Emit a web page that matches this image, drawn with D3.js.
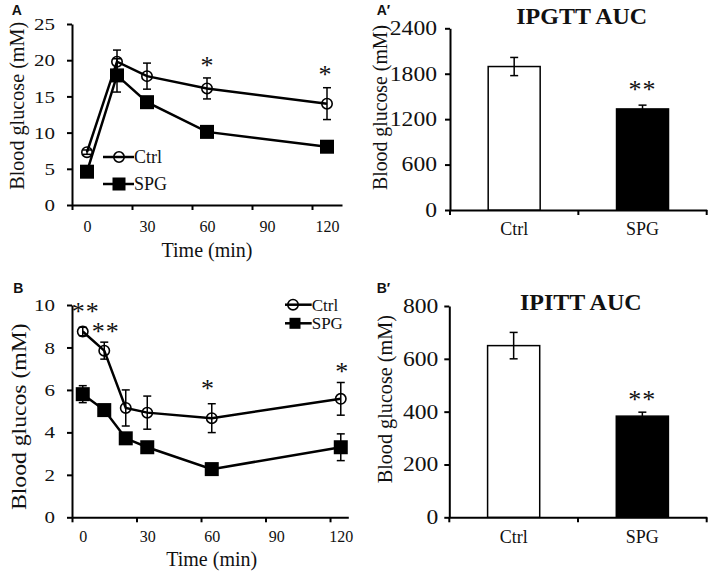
<!DOCTYPE html>
<html><head><meta charset="utf-8">
<script src="https://cdn.jsdelivr.net/npm/d3@7"></script>
<style>
body{margin:0;background:#fff}
svg{display:block}
text{font-family:"Liberation Serif","Times New Roman",serif;fill:#111}
</style>
</head><body>
<svg id="c" width="708" height="576"></svg>
<script>
// ---------- DATA ----------
// Panel A: IPGTT time course
const timesA = [0, 15, 30, 60, 120];
const ctrlA = [7.3, 19.8, 17.8, 16.1, 14.0];
const ctrlAErr = [0.3, 1.6, 1.8, 1.45, 2.2];
const spgA = [4.6, 17.9, 14.2, 10.1, 8.05];
const spgAErr = [0.3, 2.3, 0.4, 0.5, 0.5];
const yTicksA = [0, 5, 10, 15, 20, 25];
const xLabelsA = [0, 30, 60, 90, 120];
const starsA = [{t: 60, v: 19.2, s: "*"}, {t: 119, v: 17.9, s: "*"}];

// Panel B: IPITT time course
const timesB = [0, 10, 20, 30, 60, 120];
const ctrlB = [8.75, 7.85, 5.15, 4.93, 4.67, 5.58];
const ctrlBErr = [0.2, 0.4, 0.85, 0.78, 0.68, 0.77];
const spgB = [5.8, 5.05, 3.72, 3.3, 2.27, 3.3];
const spgBErr = [0.4, 0.25, 0.2, 0.2, 0.15, 0.63];
const yTicksB = [0, 2, 4, 6, 8, 10];
const xLabelsB = [0, 30, 60, 90, 120];
const starsB = [{t: 1.4, v: 9.68, s: "**"}, {t: 10.7, v: 8.74, s: "**"}, {t: 58, v: 6.05, s: "*"}, {t: 120.5, v: 6.85, s: "*"}];

// Bar panels
const categories = ["Ctrl", "SPG"];
const ipgttAUC = [1895, 1335];
const ipgttErr = [120, 50];
const ipgttTicks = [0, 600, 1200, 1800, 2400];
const ipgttStar = {cat: "SPG", v: 1580, s: "**"};
const ipittAUC = [650, 383];
const ipittErr = [50, 15];
const ipittTicks = [0, 200, 400, 600, 800];
const ipittStar = {cat: "SPG", v: 445, s: "**"};

// ---------- DRAW ----------
const SERIF = '"Liberation Serif","Times New Roman",serif';
const svg = d3.select("#c");

function styleAxis(sel, fs, digitW) {
  sel.attr("font-family", null);
  sel.select(".domain").attr("stroke", "#000").attr("stroke-width", 2);
  sel.selectAll(".tick line").attr("stroke", "#000").attr("stroke-width", 2);
  const t = sel.selectAll(".tick text").attr("font-size", fs).attr("fill", "#111")
     .style("font-family", SERIF);
  if (digitW) t.attr("textLength", function() { return this.textContent.length * digitW; })
               .attr("lengthAdjust", "spacingAndGlyphs");
}

function yLabel(txt, x, yc, len) {
  svg.append("text").attr("transform", `translate(${x},${yc}) rotate(-90)`)
    .attr("text-anchor", "middle").attr("font-size", 20).style("font-family", SERIF)
    .attr("textLength", len).attr("lengthAdjust", "spacingAndGlyphs").text(txt);
}

function panelLabel(txt, x, y) {
  svg.append("text").attr("x", x).attr("y", y).attr("font-size", 14).attr("font-weight", "bold")
    .style("font-family", '"Liberation Sans",Arial,sans-serif').text(txt);
}

function star(g, x, y, s) {
  g.append("text").attr("x", x).attr("y", y).attr("text-anchor", "middle")
    .attr("font-size", 26).style("font-family", SERIF)
    .attr("letter-spacing", s.length > 1 ? 1 : 0).text(s);
}

function linePanel(o) {
  const x = d3.scaleLinear().domain(o.xDomain).range(o.xRange);
  const y = d3.scaleLinear().domain(o.yDomain).range(o.yRange);
  const g = svg.append("g");
  const ya = g.append("g").attr("transform", `translate(${o.xRange[0]},0)`)
    .call(d3.axisLeft(y).tickValues(o.yTicks).tickSize(5).tickSizeOuter(0).tickPadding(12).tickFormat(d3.format("d")));
  styleAxis(ya, 17.5, 10.5);
  const xa = g.append("g").attr("transform", `translate(0,${o.yRange[0]})`)
    .call(d3.axisBottom(x).tickValues(o.xTickMarks).tickSize(5).tickSizeOuter(0).tickFormat(""));
  styleAxis(xa, 17);
  const xl = g.append("g").attr("transform", `translate(0,${o.yRange[0]})`)
    .call(d3.axisBottom(x).tickValues(o.xLabels).tickSize(0).tickPadding(o.xLabPad).tickFormat(d3.format("d")));
  xl.select(".domain").remove();
  styleAxis(xl, 17, 8);
  g.append("text").attr("x", o.xTitle[0]).attr("y", o.xTitle[1]).attr("text-anchor", "middle")
    .attr("font-size", 20).style("font-family", SERIF).text("Time (min)");

  const line = d3.line().x(d => x(d.t)).y(d => y(d.v));
  o.series.forEach(s => {
    const pts = o.times.map((t, i) => ({t, v: s.values[i], e: s.err[i]}));
    const eb = g.append("g").attr("stroke", "#000").attr("stroke-width", 1.5);
    pts.forEach(p => {
      eb.append("line").attr("x1", x(p.t)).attr("x2", x(p.t)).attr("y1", y(p.v - p.e)).attr("y2", y(p.v + p.e));
      [p.v - p.e, p.v + p.e].forEach(v => eb.append("line").attr("x1", x(p.t) - 4).attr("x2", x(p.t) + 4).attr("y1", y(v)).attr("y2", y(v)));
    });
    g.append("path").datum(pts).attr("d", line).attr("fill", "none").attr("stroke", "#000").attr("stroke-width", 2.5);
    if (s.marker === "circle") {
      g.selectAll(null).data(pts).join("circle").attr("cx", d => x(d.t)).attr("cy", d => y(d.v))
        .attr("r", 5.2).attr("fill", "none").attr("stroke", "#000").attr("stroke-width", 1.6);
    } else {
      g.selectAll(null).data(pts).join("rect").attr("x", d => x(d.t) - 7).attr("y", d => y(d.v) - 7)
        .attr("width", 14).attr("height", 14).attr("fill", "#000");
    }
  });
  o.stars.forEach(s => star(g, x(s.t), y(s.v) + 8, s.s));
  const L = o.legend;
  const lg = g.append("g");
  lg.append("line").attr("x1", L.x0).attr("x2", L.x1).attr("y1", L.y1).attr("y2", L.y1).attr("stroke", "#000").attr("stroke-width", 2.5);
  lg.append("circle").attr("cx", L.cx).attr("cy", L.y1).attr("r", 5.2).attr("fill", "none").attr("stroke", "#000").attr("stroke-width", 1.6);
  lg.append("text").attr("x", L.x1).attr("y", L.y1 + 6).attr("font-size", L.fs).style("font-family", SERIF).text(o.series[0].name);
  lg.append("line").attr("x1", L.x0).attr("x2", L.x1).attr("y1", L.y2).attr("y2", L.y2).attr("stroke", "#000").attr("stroke-width", 2.5);
  lg.append("rect").attr("x", L.sx - L.ss / 2).attr("y", L.y2 - L.ss / 2).attr("width", L.ss).attr("height", L.ss).attr("fill", "#000");
  lg.append("text").attr("x", L.x1).attr("y", L.y2 + 6).attr("font-size", L.fs).style("font-family", SERIF).text(o.series[1].name);
}

function barPanel(o) {
  const x = d3.scaleBand().domain(categories).range(o.xRange).paddingInner(0.595).paddingOuter(0.2975);
  const y = d3.scaleLinear().domain(o.yDomain).range(o.yRange);
  const g = svg.append("g");
  const ya = g.append("g").attr("transform", `translate(${o.xRange[0]},0)`)
    .call(d3.axisLeft(y).tickValues(o.yTicks).tickSize(5).tickSizeOuter(0).tickPadding(o.yPad).tickFormat(d3.format("d")));
  styleAxis(ya, 20, 11.8);
  const xa = g.append("g").attr("transform", `translate(0,${o.yRange[0]})`)
    .call(d3.axisBottom(x).tickValues([]).tickSizeOuter(0));
  styleAxis(xa, 18);
  const bounds = [o.xRange[0], (o.xRange[0] + o.xRange[1]) / 2, o.xRange[1]];
  g.selectAll(null).data(bounds).join("line").attr("x1", d => d).attr("x2", d => d)
    .attr("y1", o.yRange[0]).attr("y2", o.yRange[0] + 5).attr("stroke", "#000").attr("stroke-width", 2);
  g.selectAll(null).data(categories).join("text").attr("x", d => x(d) + x.bandwidth() / 2)
    .attr("y", o.yRange[0] + o.catPad).attr("text-anchor", "middle").attr("font-size", 18)
    .style("font-family", SERIF).text(d => d);
  g.selectAll(null).data(categories).join("rect").attr("x", d => x(d)).attr("width", x.bandwidth())
    .attr("y", (d, i) => y(o.values[i])).attr("height", (d, i) => y(0) - y(o.values[i]))
    .attr("fill", (d, i) => i === 0 ? "#fff" : "#000").attr("stroke", "#000").attr("stroke-width", 1.5);
  const eb = g.append("g").attr("stroke", "#000").attr("stroke-width", 1.5);
  categories.forEach((c, i) => {
    const cx = x(c) + x.bandwidth() / 2, v = o.values[i], e = o.err[i];
    const lo = i === 0 ? v - e : v;
    eb.append("line").attr("x1", cx).attr("x2", cx).attr("y1", y(lo)).attr("y2", y(v + e));
    eb.append("line").attr("x1", cx - 4).attr("x2", cx + 4).attr("y1", y(v + e)).attr("y2", y(v + e));
    if (i === 0) eb.append("line").attr("x1", cx - 4).attr("x2", cx + 4).attr("y1", y(v - e)).attr("y2", y(v - e));
  });
  star(g, x(o.star.cat) + x.bandwidth() / 2, y(o.star.v) + 8, o.star.s);
  g.append("text").attr("x", o.title[1]).attr("y", o.title[2]).attr("text-anchor", "middle")
    .attr("font-size", 24).attr("font-weight", "bold").style("font-family", SERIF).text(o.title[0]);
}

linePanel({
  xDomain: [-7.5, 127.5], xRange: [72, 342], yDomain: [0, 25], yRange: [205, 24],
  yTicks: yTicksA, xTickMarks: [-7.5, 22.5, 52.5, 82.5, 112.5], xLabels: xLabelsA, xLabPad: 14.5,
  xTitle: [207, 257], times: timesA,
  series: [{name: "Ctrl", values: ctrlA, err: ctrlAErr, marker: "circle"},
           {name: "SPG", values: spgA, err: spgAErr, marker: "square"}],
  stars: starsA,
  legend: {x0: 103, x1: 134, cx: 119, y1: 157, y2: 184, sx: 119, ss: 13, fs: 18}
});
linePanel({
  xDomain: [-5, 123.5], xRange: [72, 348.3], yDomain: [0, 10], yRange: [517.3, 305],
  yTicks: yTicksB, xTickMarks: [-5, 25, 55, 85, 115], xLabels: xLabelsB, xLabPad: 12.5,
  xTitle: [211.7, 566], times: timesB,
  series: [{name: "Ctrl", values: ctrlB, err: ctrlBErr, marker: "circle"},
           {name: "SPG", values: spgB, err: spgBErr, marker: "square"}],
  stars: starsB,
  legend: {x0: 285, x1: 311.7, cx: 293, y1: 304.7, y2: 323.3, sx: 295, ss: 11, fs: 17}
});
barPanel({
  xRange: [450, 706.7], yDomain: [0, 2400], yRange: [210, 28.3], yTicks: ipgttTicks, yPad: 8,
  values: ipgttAUC, err: ipgttErr, star: ipgttStar, catPad: 25, title: ["IPGTT AUC", 581.7, 24]
});
barPanel({
  xRange: [449.3, 706.7], yDomain: [0, 800], yRange: [517.3, 306], yTicks: ipittTicks, yPad: 6,
  values: ipittAUC, err: ipittErr, star: ipittStar, catPad: 26, title: ["IPITT AUC", 580.8, 310]
});

yLabel("Blood glucose (mM)", 24, 105.8, 168);
yLabel("Blood glucose (mM)", 386.5, 107.5, 165);
yLabel("Blood glucos (mM)", 25.5, 416.7, 186.7);
yLabel("Blood glucose (mM)", 392, 399.2, 168.3);

panelLabel("A", 11.7, 15);
panelLabel("A\u2032", 376.7, 15);
panelLabel("B", 13.3, 293);
panelLabel("B\u2032", 376.7, 293);
</script>
</body></html>
